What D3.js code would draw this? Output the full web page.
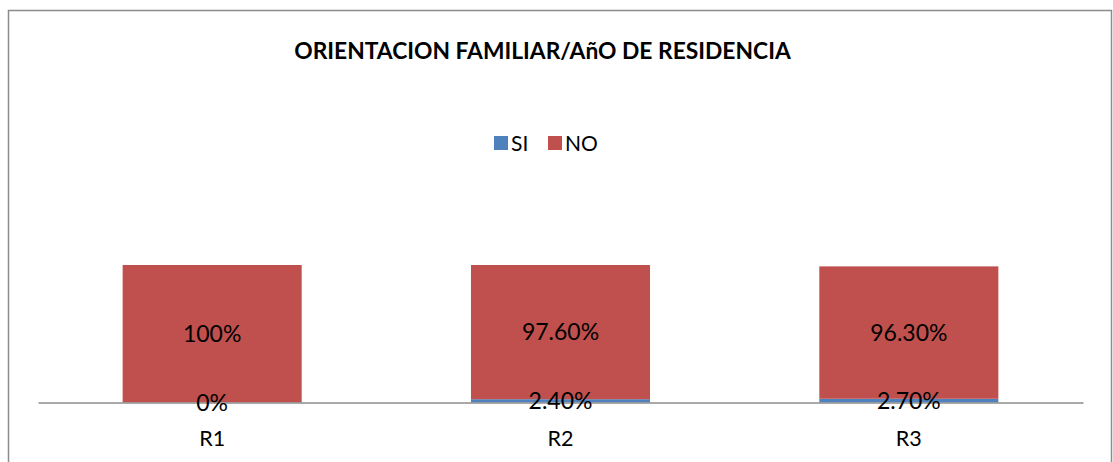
<!DOCTYPE html>
<html>
<head>
<meta charset="utf-8">
<script src="https://cdn.jsdelivr.net/npm/d3@7"></script>
<style>
  html, body { margin: 0; padding: 0; background: #fff; }
  svg { display: block; }
</style>
</head>
<body>
<div id="chart"></div>
<script>
const categories = ["R1", "R2", "R3"];
const seriesNames = ["SI", "NO"];
const siValues = [0, 2.4, 2.7];
const noValues = [100, 97.6, 96.3];
const siLabels = ["0%", "2.40%", "2.70%"];
const noLabels = ["100%", "97.60%", "96.30%"];
const title = "ORIENTACION FAMILIAR/AñO DE RESIDENCIA";

const W = 1113, H = 462;
const colors = { SI: "#4F81BD", NO: "#C0504D" };
const font = "Lato, 'Open Sans', sans-serif";

const svg = d3.select("#chart").append("svg").attr("width", W).attr("height", H);

// chart border (bottom edge falls outside the image)
svg.append("rect")
  .attr("x", 8.5).attr("y", 10.5)
  .attr("width", 1103).attr("height", 470)
  .attr("fill", "#fff").attr("stroke", "#8c8c8c").attr("stroke-width", 1.5);

// title
svg.append("text")
  .attr("x", 542.5).attr("y", 58.5)
  .attr("text-anchor", "middle")
  .attr("font-family", font).attr("font-weight", "bold").attr("font-size", 22.8)
  .attr("fill", "#000")
  .text(title);

// legend
const legend = svg.append("g").attr("font-family", font).attr("font-size", 21);
const legendItems = [{ name: "SI", x: 494 }, { name: "NO", x: 548 }];
legendItems.forEach(d => {
  legend.append("rect").attr("x", d.x).attr("y", 136).attr("width", 14).attr("height", 14)
    .attr("fill", colors[d.name]);
  legend.append("text").attr("x", d.x + 17).attr("y", 150.8).attr("fill", "#000").text(d.name);
});

// scales
const x = d3.scaleBand().domain(categories).range([38, 1083]).paddingInner(0.486).paddingOuter(0.243);
const y = d3.scaleLinear().domain([0, 100]).range([402.5, 265]);

const rows = categories.map((c, i) => ({ cat: c, SI: siValues[i], NO: noValues[i], siLabel: siLabels[i], noLabel: noLabels[i] }));
const stack = d3.stack().keys(seriesNames)(rows);

const g = svg.append("g");
g.selectAll("g.series").data(stack).join("g")
  .attr("fill", d => colors[d.key])
  .selectAll("rect").data(d => d).join("rect")
  .attr("x", d => x(d.data.cat))
  .attr("y", d => y(d[1]))
  .attr("width", x.bandwidth())
  .attr("height", d => y(d[0]) - y(d[1]));

// axis
const axis = svg.append("g").attr("transform", "translate(0,402.5)")
  .call(d3.axisBottom(x).tickSize(0).tickPadding(0));
axis.select(".domain").attr("stroke", "#8c8c8c").attr("stroke-width", 1.5);
axis.selectAll(".tick text")
  .attr("font-family", font).attr("font-size", 21.5).attr("fill", "#000")
  .attr("dy", null).attr("y", 43);

// data labels
const labels = svg.append("g").attr("font-family", font).attr("font-size", 23)
  .attr("text-anchor", "middle").attr("fill", "#000");
stack.forEach(s => {
  labels.selectAll(null).data(s).join("text")
    .attr("x", d => x(d.data.cat) + x.bandwidth() / 2)
    .attr("y", d => (y(d[0]) + y(d[1])) / 2)
    .attr("dy", "0.35em")
    .text(d => s.key === "SI" ? d.data.siLabel : d.data.noLabel);
});
</script>
</body>
</html>
